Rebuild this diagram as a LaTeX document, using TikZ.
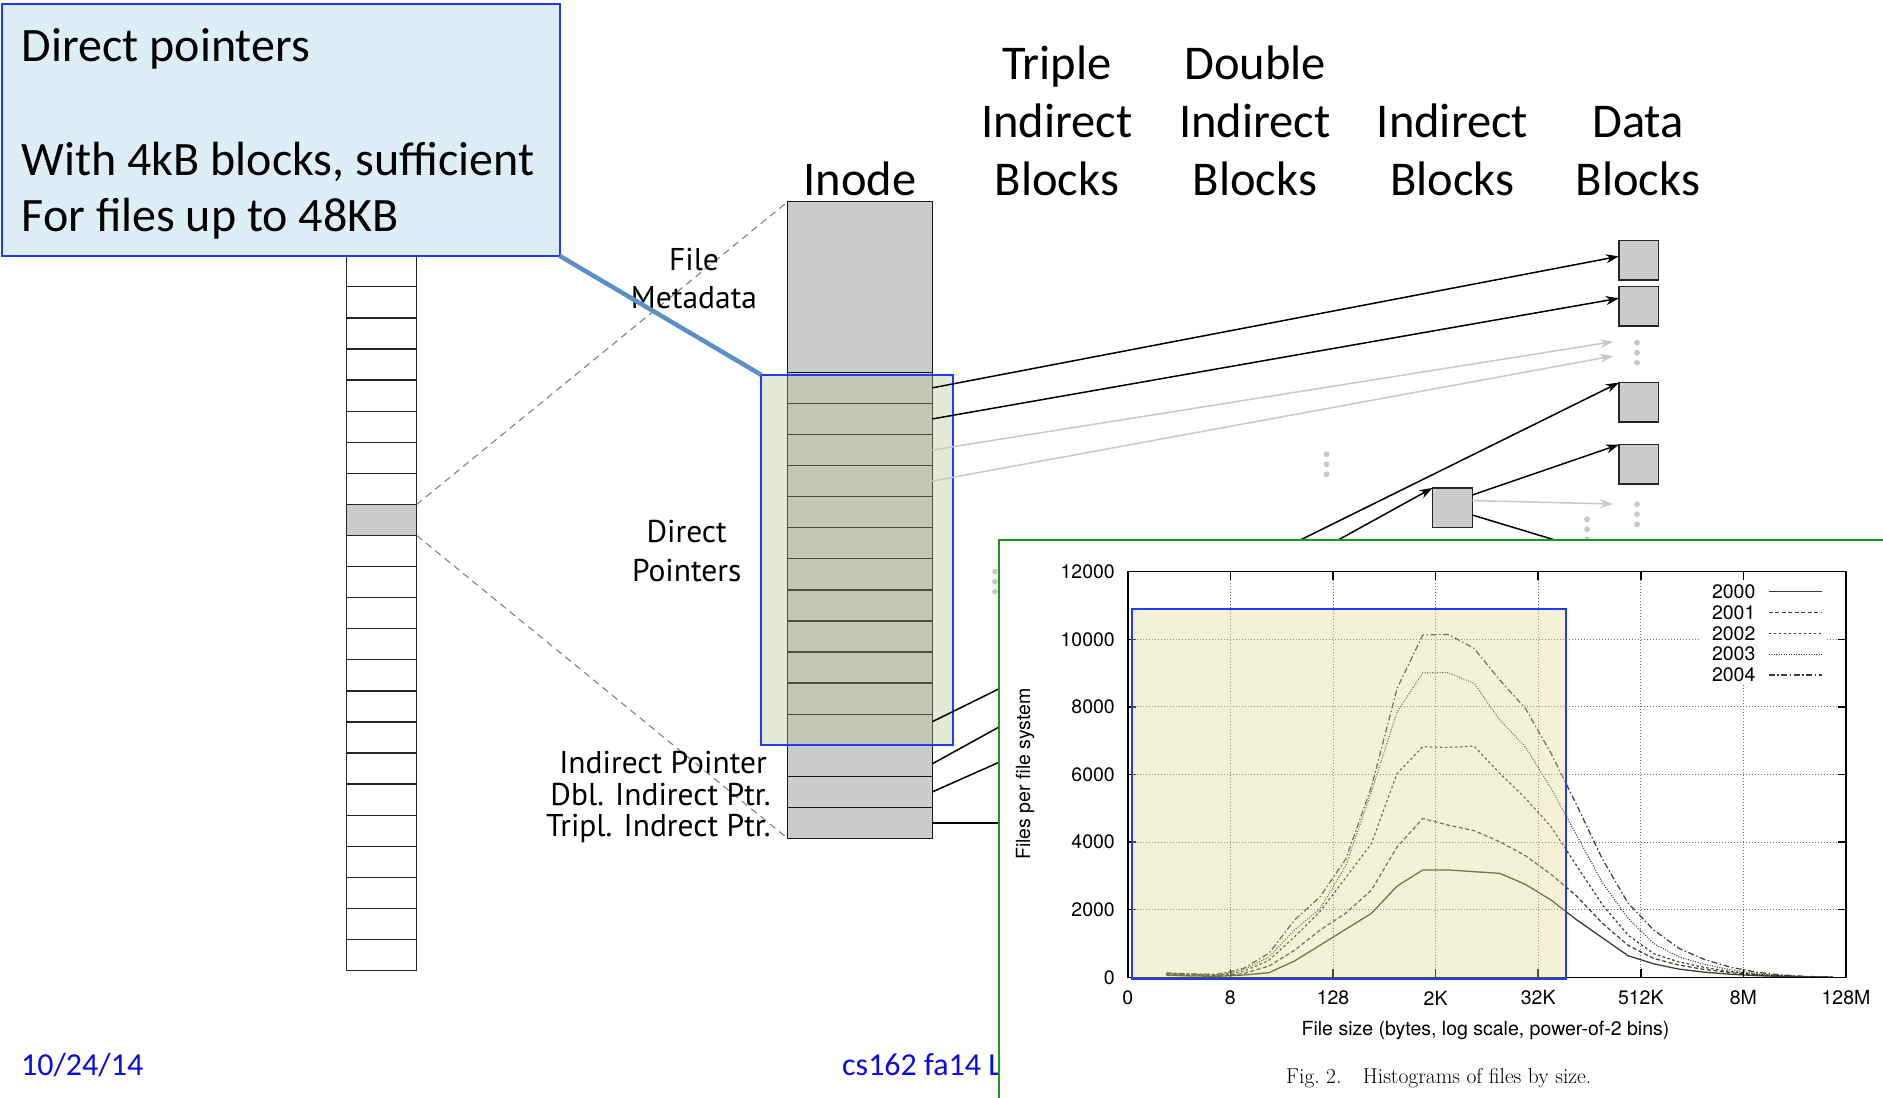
\documentclass[tikz,border=0pt]{standalone}
\usepackage{fontspec}
\usetikzlibrary{arrows.meta,calc}
\newfontfamily\calib{Carlito}
\newfontfamily\myr{PT Sans}
\newfontfamily\helv{TeX Gyre Heros}
\definecolor{cellgray}{RGB}{204,204,204}
\definecolor{calloutfill}{RGB}{222,238,247}
\definecolor{hiblue}{RGB}{30,60,255}
\definecolor{leadblue}{RGB}{91,143,199}
\definecolor{inodetint}{RGB}{174,189,132}
\definecolor{charttint}{RGB}{226,220,140}
\definecolor{framegreen}{RGB}{30,150,30}
\definecolor{dotgray}{RGB}{200,200,200}
\definecolor{footblue}{RGB}{10,10,225}
\definecolor{fadearrow}{RGB}{200,200,200}
\definecolor{curveink}{RGB}{60,60,50}

\begin{document}
\begin{tikzpicture}[x=1pt,y=-1pt,
  blockcell/.style={draw=black!85, line width=1.3pt, inner sep=0pt, outer sep=0pt,
    minimum width=70pt, minimum height=31.08pt},
  inodecell/.style={draw=black!90, fill=cellgray, line width=1.3pt, inner sep=0pt, outer sep=0pt,
    minimum width=144.6pt, minimum height=31.08pt},
  blk/.style={draw=black!85, fill=cellgray, line width=1.4pt, inner sep=0pt, outer sep=0pt,
    minimum width=39.8pt, minimum height=39.3pt},
  hlbox/.style={draw=hiblue, line width=2.2pt, fill=inodetint, fill opacity=0.33,
    inner sep=0pt, outer sep=0pt},
  charthl/.style={draw=hiblue, line width=2.2pt, fill=charttint, fill opacity=0.35,
    inner sep=0pt, outer sep=0pt},
  callout/.style={draw=hiblue, line width=2pt, fill=calloutfill, inner sep=0pt, outer sep=0pt},
  leader/.style={draw=leadblue, line width=4.5pt},
  dashline/.style={draw=black!50, line width=1.1pt, dash pattern=on 7pt off 5pt},
  ptr/.style={draw=black, line width=1.5pt, -{Stealth[length=13pt,width=9pt]}},
  fadeptr/.style={ptr, draw=fadearrow},
  plainln/.style={draw=black, line width=1.5pt},
  hdr/.style={font={\calib\fontsize{48.5}{58}\selectfont}, inner sep=0pt, anchor=base},
  lbl/.style={font={\myr\fontsize{31.5}{37}\selectfont}, inner sep=0pt},
  calltxt/.style={font={\calib\fontsize{48}{56}\selectfont}, inner sep=0pt, anchor=base west},
  foot/.style={font={\calib\fontsize{32}{38}\selectfont}, text=footblue, inner sep=0pt, anchor=base west},
  chartframe/.style={draw=framegreen, line width=2.5pt, fill=white, inner sep=0pt, outer sep=0pt},
  tick/.style={font={\helv\fontsize{19.5}{22}\selectfont}, inner sep=0pt},
  gridln/.style={draw=black!55, line width=1pt, dash pattern=on 1pt off 2pt},
  axisln/.style={draw=black, line width=1.5pt},
  c2000/.style={draw=curveink, line width=1.3pt},
  c2001/.style={draw=curveink, line width=1.2pt, dash pattern=on 4pt off 2.5pt},
  c2002/.style={draw=curveink, line width=1.2pt, dash pattern=on 2.5pt off 2.5pt},
  c2003/.style={draw=curveink, line width=1.1pt, dash pattern=on 1pt off 1.5pt},
  c2004/.style={draw=curveink, line width=1.2pt, dash pattern=on 6pt off 2.5pt on 1.5pt off 2.5pt},
  dotmark/.style={fill=dotgray}
]
\useasboundingbox (0,0) rectangle (1883,1098);
\clip (0,0) rectangle (1883,1098);

% ---------- disk block column ----------
\foreach \k in {1,...,9}
  \node[blockcell, fill=white] (c\k) at (381.7,{504.4+31.08*(\k-9.5)}) {};
\foreach \k in {11,...,24}
  \node[blockcell, fill=white] (c\k) at (381.7,{504.4+31.08*(\k-9.5)}) {};
\node[blockcell, fill=cellgray] (gcell) at (381.7,{504.4+31.08*0.5}) {};

% ---------- inode ----------
\node[inodecell, minimum height=170.6pt] (meta) at (860,287) {};
\foreach \i in {1,...,12}
  \node[inodecell] (r\i) at (860,{372.3+31.08*(\i-0.5)}) {};
\node[inodecell] (ind) at (860,760.8) {};
\node[inodecell] (dbl) at (860,791.9) {};
\node[inodecell] (tpl) at (860,823.0) {};

% zoom lines from the disk block to the inode
\draw[dashline] (gcell.north east) -- (meta.north west);
\draw[dashline] (gcell.south east) -- (tpl.south west);

% inode field labels
\node[lbl, anchor=base] (lfile) at (694,270.7) {File};
\node[lbl, anchor=base] (lmeta) at (694,308.3) {Metadata};
\node[lbl, anchor=base] (ldir1) at (686.7,542.7) {Direct};
\node[lbl, anchor=base] (ldir2) at (686.7,581.7) {Pointers};
\node[lbl, anchor=base east] (lind) at (767,773.3) {Indirect Pointer};
\node[lbl, anchor=base east] (ldbl) at (770.7,805) {Dbl. Indirect Ptr.};
\node[lbl, anchor=base east] (ltpl) at (770.7,836.7) {Tripl. Indrect Ptr.};

% column headers
\node[hdr] (hin) at (860,195) {Inode};
\node[hdr] (ht1) at (1057,79.3) {Triple};
\node[hdr] (ht2) at (1057,137.3) {Indirect};
\node[hdr] (ht3) at (1057,195) {Blocks};
\node[hdr] (hd1) at (1255,79.3) {Double};
\node[hdr] (hd2) at (1255,137.3) {Indirect};
\node[hdr] (hd3) at (1255,195) {Blocks};
\node[hdr] (hi2) at (1452.5,137.3) {Indirect};
\node[hdr] (hi3) at (1452.5,195) {Blocks};
\node[hdr] (hb2) at (1638,137.3) {Data};
\node[hdr] (hb3) at (1638,195) {Blocks};

% data blocks and the single indirect block
\node[blk] (d1) at (1638.8,260.3) {};
\node[blk] (d2) at (1638.8,306.3) {};
\node[blk] (d3) at (1638.8,402.3) {};
\node[blk] (d4) at (1638.8,464.3) {};
\node[blk] (ib) at (1452.4,507.6) {};

% ellipsis dots
\foreach \yy in {342.7,352.7,362.7} \fill[dotmark] (1637,\yy) circle (2.9pt);
\foreach \yy in {504.3,514.3,524.3} \fill[dotmark] (1637,\yy) circle (2.9pt);
\foreach \yy in {454.3,464.3,474.3} \fill[dotmark] (1326.5,\yy) circle (2.9pt);
\foreach \yy in {519.3,529.3,539.3} \fill[dotmark] (1587,\yy) circle (2.9pt);
\foreach \yy in {571.7,581.7,591.7} \fill[dotmark] (995,\yy) circle (2.9pt);

% free ends of pointers
\coordinate (g1) at (1613,341.7);
\coordinate (g2) at (1613,356);
\coordinate (g3) at (1613,504);
\coordinate (h1) at (1620,559.7);
\coordinate (h2) at (1235,657.5);
\coordinate (h3) at (1040,823);

% highlight over the direct pointers
\node[hlbox, minimum width=191.7pt, minimum height=370.6pt] (hl) at (856.85,560) {};

% pointers
\draw[ptr] (r1.east) -- ($(d1.west)+(0,-4)$);
\draw[ptr] (r2.east) -- ($(d2.west)+(0,-8)$);
\draw[fadeptr] (r3.east) -- (g1);
\draw[fadeptr] (r4.east) -- (g2);
\draw[ptr] ($(r12.east)+(0,-8)$) -- (d3.north west);
\draw[ptr] ($(ind.east)+(0,3)$) -- (ib.north west);
\draw[ptr] ($(ib.east)+(0,-12.6)$) -- (d4.north west);
\draw[fadeptr] ($(ib.east)+(0,-7)$) -- (g3);
\draw[plainln] ($(ib.east)+(0,7.4)$) -- (h1);
\draw[plainln] (dbl.east) -- (h2);
\draw[plainln] (tpl.east) -- (h3);

% callout
\node[callout, anchor=north west, minimum width=557.2pt, minimum height=252.2pt] (callout) at (2.4,3.6) {};
\node[calltxt] (cl1) at (21.6,61.7) {Direct pointers};
\node[calltxt] (cl2) at (21.6,175) {With 4kB blocks, sufficient};
\node[calltxt] (cl3) at (21.6,231.7) {For files up to 48KB};
\draw[leader] (callout.south east) -- (hl.north west);

% footer
\node[foot] (date) at (21,1075) {10/24/14};
\node[foot] (course) at (842,1075) {cs162 fa14 L};

% ---------- file size histogram ----------
\node[chartframe, anchor=north west, minimum width=900pt, minimum height=580pt] (chart) at (999,540) {};

\begin{scope}[shift={(1127.8,977.3)}, x=25.65pt, y=0.0338pt]
  \foreach \v in {2000,4000,...,10000} \draw[gridln] (0,\v) -- (28,\v);
  \foreach \b in {4,8,...,24} \draw[gridln] (\b,0) -- (\b,12000);
  \fill[white] (22.3,11780) rectangle (27.2,8680);
  \draw[c2000] plot coordinates {(1.5,60) (2.5,40) (3.5,30) (4.5,68) (5.5,136) (6.5,482) (7.5,952) (8.5,1423) (9.5,1893) (10.5,2700) (11.5,3175) (12.5,3175) (13.5,3125) (14.5,3075) (15.5,2750) (16.5,2287) (17.5,1700) (18.5,1170) (19.5,640) (20.5,400) (21.5,240) (22.5,150) (23.5,90) (24.5,50) (25.5,25) (26.5,10) (27.5,3)};
  \draw[c2001] plot coordinates {(1.5,90) (2.5,60) (3.5,50) (4.5,110) (5.5,330) (6.5,800) (7.5,1400) (8.5,1900) (9.5,2580) (10.5,3860) (11.5,4700) (12.5,4500) (13.5,4340) (14.5,4010) (15.5,3600) (16.5,3050) (17.5,2400) (18.5,1600) (19.5,950) (20.5,560) (21.5,360) (22.5,230) (23.5,140) (24.5,70) (25.5,35) (26.5,15) (27.5,5)};
  \draw[c2002] plot coordinates {(1.5,110) (2.5,80) (3.5,70) (4.5,170) (5.5,500) (6.5,1200) (7.5,1950) (8.5,2950) (9.5,3960) (10.5,6036) (11.5,6822) (12.5,6800) (13.5,6840) (14.5,6036) (15.5,5300) (16.5,4456) (17.5,3300) (18.5,2150) (19.5,1250) (20.5,700) (21.5,450) (22.5,290) (23.5,170) (24.5,90) (25.5,40) (26.5,15) (27.5,5)};
  \draw[c2003] plot coordinates {(1.5,120) (2.5,90) (3.5,80) (4.5,220) (5.5,600) (6.5,1400) (7.5,2040) (8.5,3300) (9.5,5500) (10.5,7850) (11.5,9012) (12.5,9012) (13.5,8698) (14.5,7612) (15.5,6822) (16.5,5591) (17.5,4200) (18.5,2800) (19.5,1750) (20.5,1000) (21.5,600) (22.5,380) (23.5,220) (24.5,110) (25.5,50) (26.5,20) (27.5,5)};
  \draw[c2004] plot coordinates {(1.5,130) (2.5,100) (3.5,90) (4.5,260) (5.5,710) (6.5,1695) (7.5,2385) (8.5,3500) (9.5,5639) (10.5,8550) (11.5,10127) (12.5,10146) (13.5,9733) (14.5,8796) (15.5,7958) (16.5,6627) (17.5,5100) (18.5,3500) (19.5,2200) (20.5,1400) (21.5,850) (22.5,520) (23.5,300) (24.5,150) (25.5,70) (26.5,25) (27.5,5)};
  \draw[axisln] (0,0) rectangle (28,12000);
  \foreach \b in {4,8,...,24} {\draw[axisln] (\b,0) -- (\b,240); \draw[axisln] (\b,12000) -- (\b,11760);}
  \foreach \v in {2000,4000,...,10000} {\draw[axisln] (0,\v) -- (0.31,\v); \draw[axisln] (28,\v) -- (27.69,\v);}
\end{scope}

% tick labels and axis titles
\foreach \j in {0,...,6} {
  \pgfmathtruncatemacro\tv{2000*\j}
  \node[tick, anchor=east] (yl\j) at (1115,{977.3-67.6*\j}) {\tv};
}
\foreach \j/\t in {0/0,1/8,2/128,3/2K,4/32K,5/512K,6/8M,7/128M}
  \node[tick] (xl\j) at ({1127.8+102.6*\j},998) {\t};
\node[tick] (xtitle) at (1485.5,1030) {File size (bytes, log scale, power-of-2 bins)};
\node[tick, rotate=90] (ytitle) at (1025,774) {Files per file system};
\node[inner sep=0pt, font=\fontsize{21.5}{25}\selectfont] (caption) at (1438.7,1078.4) {Fig.~2.\quad Histograms of files by size.};

% legend
\foreach \j/\yr/\st in {0/2000/c2000,1/2001/c2001,2/2002/c2002,3/2003/c2003,4/2004/c2004} {
  \node[tick, anchor=east] (lg\j) at (1755.6,{591.7+20.8*\j}) {\yr};
  \draw[\st] (1768.6,{591.7+20.8*\j}) -- (1822,{591.7+20.8*\j});
}

% highlight over the small-file range
\node[charthl, minimum width=434.1pt, minimum height=370.3pt] (chl) at (1348.85,794.15) {};
\end{tikzpicture}
\end{document}
